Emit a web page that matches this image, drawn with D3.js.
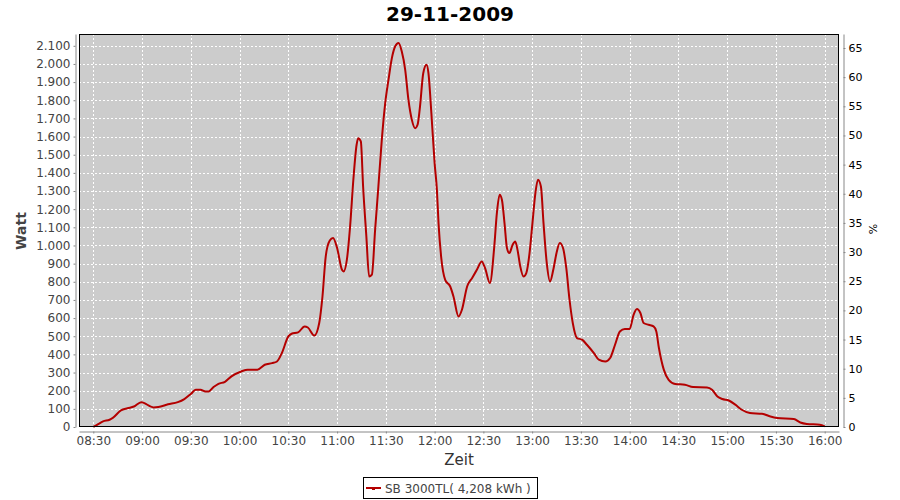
<!DOCTYPE html>
<html><head><meta charset="utf-8">
<script src="https://cdn.jsdelivr.net/npm/d3@7"></script>
<style>
html,body{margin:0;padding:0;background:#fff;}
svg{display:block;font-family:"DejaVu Sans",sans-serif;}
</style></head>
<body><svg id="c" width="900" height="500"></svg>
<script>
const title = "29-11-2009";
const seriesName = "SB 3000TL( 4,208 kWh )";
const yLabel = "Watt", y2Label = "%", xLabel = "Zeit";
const xTickLabels = ["08:30","09:00","09:30","10:00","10:30","11:00","11:30","12:00","12:30","13:00","13:30","14:00","14:30","15:00","15:30","16:00"];
const yTicks = d3.range(0, 2101, 100);
const y2Ticks = d3.range(0, 66, 5);
const times = ["08:30:00","08:33:00","08:36:00","08:40:00","08:42:00","08:47:00","08:51:00","08:55:00","08:59:30","09:07:00","09:10:00","09:16:00","09:22:00","09:26:00","09:30:00","09:33:00","09:36:00","09:39:00","09:41:00","09:44:00","09:47:00","09:51:00","09:55:00","10:01:00","10:05:00","10:11:00","10:15:30","10:20:00","10:23:00","10:26:00","10:30:00","10:32:00","10:36:00","10:40:00","10:42:00","10:46:00","10:49:00","10:51:00","10:53:00","10:55:30","10:57:30","11:00:00","11:03:00","11:04:00","11:06:00","11:08:00","11:10:00","11:12:00","11:13:00","11:14:36","11:16:00","11:18:00","11:19:42","11:21:24","11:23:24","11:25:24","11:27:30","11:29:36","11:31:36","11:33:42","11:35:42","11:37:48","11:39:48","11:41:54","11:43:54","11:46:00","11:48:00","11:49:30","11:51:00","11:53:00","11:55:00","11:56:12","11:58:00","12:00:00","12:01:24","12:02:24","12:04:00","12:06:30","12:09:36","12:11:36","12:14:42","12:16:48","12:20:00","12:23:00","12:26:00","12:29:00","12:31:00","12:34:00","12:36:42","12:38:18","12:40:00","12:41:24","12:43:00","12:44:30","12:46:00","12:48:00","12:49:36","12:51:00","12:52:42","12:54:42","12:56:24","12:58:24","13:00:00","13:02:00","13:03:36","13:05:24","13:07:00","13:09:00","13:11:00","13:13:00","13:15:00","13:17:00","13:19:00","13:21:00","13:23:00","13:25:00","13:27:36","13:30:42","13:33:42","13:38:00","13:41:00","13:45:00","13:48:00","13:51:00","13:54:00","13:57:00","14:00:00","14:02:24","14:04:30","14:06:36","14:08:36","14:11:42","14:14:42","14:16:24","14:18:00","14:21:00","14:24:00","14:28:00","14:34:00","14:39:00","14:47:36","14:50:42","14:54:00","14:57:00","15:01:00","15:05:00","15:09:00","15:14:00","15:21:30","15:26:36","15:30:42","15:41:00","15:45:00","15:49:00","15:57:00","16:00:00"];
const watts = [0,16,31,40,50,91,103,113,137,108,110,125,137,154,182,205,205,196,196,220,238,249,279,306,316,316,343,352,361,407,499,514,521,554,548,504,573,719,939,1027,1041,986,866,857,921,1105,1362,1555,1591,1573,1325,1050,829,839,1087,1325,1582,1784,1912,2032,2096,2115,2068,1968,1802,1692,1646,1665,1765,1949,1995,1949,1729,1454,1307,1123,939,811,774,719,609,646,774,820,866,912,876,793,994,1178,1279,1252,1123,986,958,1004,1022,976,884,829,848,958,1105,1289,1362,1325,1123,903,802,866,958,1013,986,876,701,573,490,481,453,407,371,361,380,453,526,540,540,618,650,628,573,563,554,526,435,316,260,237,233,220,218,205,168,154,146,123,95,77,73,58,50,44,25,17,13,3];

const parse = d3.timeParse("%H:%M:%S");
const parseHM = d3.timeParse("%H:%M");
const data = times.map((t,i)=>({t:parse(t), v:watts[i]}));

const svg = d3.select("#c");
const L=79, R=839, T=34, B=427;
const x = d3.scaleTime().domain([parse("08:21:12"), parse("16:08:48")]).range([L,R]);
const y = d3.scaleLinear().domain([0,2165]).range([B,T]);
const y2 = d3.scaleLinear().domain([0,67.4]).range([B,T]);
const loc = d3.formatLocale({decimal:",", thousands:".", grouping:[3], currency:["","€"]});
const fmt = loc.format(",");
const xTickDates = xTickLabels.map(s=>parseHM(s));

// title
svg.append("text").attr("x",450).attr("y",21).attr("text-anchor","middle")
  .style("font-size","20px").style("font-weight","bold").attr("fill","#000").text(title);

// plot bg
svg.append("rect").attr("x",L).attr("y",T).attr("width",R-L).attr("height",B-T).attr("fill","#cccccc");

// grid
const g = svg.append("g");
g.selectAll("line.h").data(yTicks).join("line")
  .attr("x1",L).attr("x2",R).attr("y1",d=>Math.round(y(d))+0.5).attr("y2",d=>Math.round(y(d))+0.5)
  .attr("stroke","#fff").attr("stroke-dasharray","2,2").attr("stroke-width",1);
g.selectAll("line.v").data(xTickDates).join("line")
  .attr("y1",T).attr("y2",B).attr("x1",d=>Math.round(x(d))+0.5).attr("x2",d=>Math.round(x(d))+0.5)
  .attr("stroke","#fff").attr("stroke-dasharray","2,2").attr("stroke-width",1);

// line
const line = d3.line().x(d=>x(d.t)).y(d=>y(d.v)).curve(d3.curveMonotoneX);
svg.append("path").datum(data).attr("d",line).attr("fill","none")
  .attr("stroke","#b40000").attr("stroke-width",2).attr("stroke-linejoin","round");

// border
svg.append("rect").attr("x",L+0.5).attr("y",T+0.5).attr("width",R-L-1).attr("height",B-T-1)
  .attr("fill","none").attr("stroke","#000").attr("stroke-width",1);

const axisStyle = sel => {
  sel.selectAll(".domain").attr("stroke","#888");
  sel.selectAll(".tick line").attr("stroke","#888");
  sel.selectAll(".tick text").attr("fill","#444").style("font-size","12px").style("font-family","DejaVu Sans");
};
// left axis
svg.append("g").attr("transform","translate(75.5,0)")
  .call(d3.axisLeft(y).tickValues(yTicks).tickFormat(fmt).tickSize(2).tickSizeOuter(0).tickPadding(3))
  .call(axisStyle);
// right axis
svg.append("g").attr("transform","translate(843.5,0)")
  .call(d3.axisRight(y2).tickValues(y2Ticks).tickFormat(d3.format("d")).tickSize(2).tickSizeOuter(0).tickPadding(3))
  .call(axisStyle)
  .call(s=>s.selectAll(".tick text").attr("fill","#000").style("font-size","11px"));
// bottom axis
svg.append("g").attr("transform","translate(0,431.5)")
  .call(d3.axisBottom(x).tickValues(xTickDates).tickFormat(d3.timeFormat("%H:%M")).tickSize(2).tickSizeOuter(0).tickPadding(3))
  .call(axisStyle);

// axis labels
svg.append("text").attr("transform","translate(26,231) rotate(-90)").attr("text-anchor","middle")
  .style("font-size","14px").style("font-weight","bold").attr("fill","#444").text(yLabel);
svg.append("text").attr("x",459).attr("y",465).attr("text-anchor","middle")
  .style("font-size","15px").attr("fill","#333").text(xLabel);
svg.append("text").attr("transform","translate(877,229) rotate(-90)").attr("text-anchor","middle")
  .style("font-size","11px").attr("fill","#000").text(y2Label);

// legend
const lg = svg.append("g");
lg.append("rect").attr("x",363.5).attr("y",477.5).attr("width",174).attr("height",21)
  .attr("fill","#fff").attr("stroke","#000").attr("stroke-width",1);
lg.append("line").attr("x1",366).attr("x2",381).attr("y1",488).attr("y2",488)
  .attr("stroke","#b40000").attr("stroke-width",2);
lg.append("rect").attr("x",372).attr("y",487).attr("width",3).attr("height",3).attr("fill","#b40000");
lg.append("text").attr("x",385).attr("y",492.5).style("font-size","12px").attr("fill","#444").text(seriesName);
</script></body></html>
